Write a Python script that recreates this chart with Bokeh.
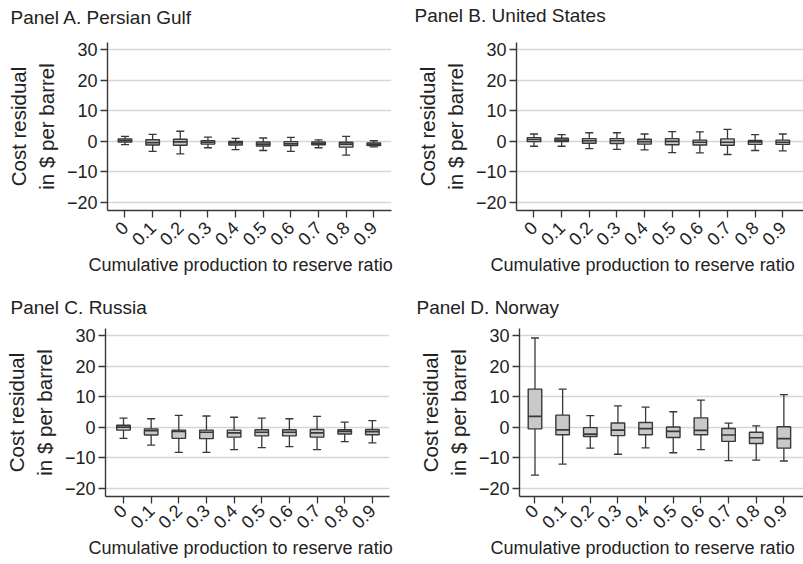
import math
import numpy as np
from bokeh.plotting import figure
from bokeh.layouts import column, row
from bokeh.models import FixedTicker, Title, Label, Range1d
from bokeh.embed import file_html
from bokeh.resources import INLINE

# ---------------- data ----------------
ratios = ["0", "0.1", "0.2", "0.3", "0.4", "0.5", "0.6", "0.7", "0.8", "0.9"]
y_ticks = [-20, -10, 0, 10, 20, 30]
y_tick_labels = ["\u221220", "\u221210", "0", "10", "20", "30"]

gulf_low = [-1.1, -3.3, -4.1, -2.1, -2.7, -3.0, -3.3, -2.1, -4.5, -1.8]
gulf_q1 = [-0.2, -1.2, -1.3, -0.9, -1.2, -1.5, -1.4, -1.1, -1.9, -1.4]
gulf_med = [0.3, -0.4, -0.2, -0.3, -0.5, -0.9, -0.8, -0.7, -0.9, -0.9]
gulf_q3 = [0.8, 0.5, 0.7, 0.2, 0.0, -0.2, -0.1, -0.2, -0.3, -0.5]
gulf_high = [1.6, 2.3, 3.3, 1.4, 1.0, 1.1, 1.3, 0.5, 1.6, 0.2]

us_low = [-1.6, -1.6, -2.4, -2.6, -2.8, -3.7, -3.8, -4.3, -3.0, -3.1]
us_q1 = [-0.1, -0.1, -0.6, -0.7, -0.9, -1.1, -1.2, -1.3, -1.0, -1.0]
us_med = [0.6, 0.4, 0.2, 0.2, -0.1, 0.0, -0.3, -0.3, -0.2, -0.3]
us_q3 = [1.2, 1.0, 0.9, 0.9, 0.7, 0.9, 0.4, 0.8, 0.3, 0.4]
us_high = [2.4, 2.2, 2.8, 2.8, 2.4, 3.2, 3.1, 3.9, 2.2, 2.4]

russia_low = [-3.6, -5.8, -8.2, -8.2, -7.3, -6.6, -6.3, -7.3, -4.7, -5.1]
russia_q1 = [-0.9, -2.5, -3.6, -3.7, -3.2, -2.8, -2.8, -3.2, -2.2, -2.4]
russia_med = [0.1, -1.1, -1.3, -1.6, -1.8, -1.6, -1.6, -1.8, -1.3, -1.4]
russia_q3 = [0.7, -0.5, -0.9, -0.9, -0.9, -0.8, -0.8, -0.7, -0.8, -0.7]
russia_high = [3.0, 2.8, 3.9, 3.7, 3.3, 3.0, 2.8, 3.6, 1.7, 2.2]

norway_low = [-15.6, -12.0, -6.8, -8.8, -6.7, -8.3, -7.3, -10.9, -10.7, -11.0]
norway_q1 = [-0.5, -2.4, -3.0, -2.7, -2.4, -3.3, -2.4, -4.6, -5.3, -6.8]
norway_med = [3.6, -0.8, -2.2, -0.9, -0.4, -1.3, -1.0, -2.5, -3.4, -3.7]
norway_q3 = [12.5, 4.0, -0.1, 1.4, 1.6, 0.1, 3.1, -0.4, -1.6, 0.2]
norway_high = [29.2, 12.5, 3.8, 7.0, 6.6, 5.1, 8.9, 1.4, 0.5, 10.7]

panel_titles = ["Panel A. Persian Gulf", "Panel B. United States",
                "Panel C. Russia", "Panel D. Norway"]
x_title = "Cumulative production to reserve ratio"
y_title = "Cost residual\nin $ per barrel"

# ---------------- style ----------------
FONT = "Liberation Sans"
TXT = "#222222"
DARK = "#383838"
BOX_FILL = "#c9c9c9"
GRID = "#d6d6d6"
BOX_W = 0.49
CAP_W = 0.29
Y_START, Y_END = -22.6, 32.3


def make_title(text, width, height, tx, ty):
    """A thin frameless figure that only carries the panel heading."""
    t = figure(width=width, height=height, x_range=Range1d(0, width), y_range=Range1d(height, 0),
               output_backend="svg", toolbar_location=None,
               min_border_left=0, min_border_right=0, min_border_top=0, min_border_bottom=0)
    t.axis.visible = False
    t.grid.visible = False
    t.outline_line_color = None
    t.add_layout(Label(x=tx, y=ty, text=text, text_align="left", text_baseline="middle",
                       text_font=FONT, text_font_size="19px", text_color=TXT))
    return t


def make_panel(lo, q1, med, q3, hi, x_start, x_end, width, height,
               mb_left, mb_right, mb_top, mb_bottom,
               xlab_offset, xtick_standoff, xlab_standoff):
    p = figure(width=width, height=height, x_range=(x_start, x_end), y_range=(Y_START, Y_END),
               output_backend="svg", toolbar_location=None,
               min_border_left=mb_left, min_border_right=mb_right,
               min_border_top=mb_top, min_border_bottom=mb_bottom)
    p.outline_line_color = None
    p.background_fill_color = "white"
    p.border_fill_color = "white"

    x = np.arange(len(ratios), dtype=float)
    lo = np.array(lo); q1 = np.array(q1); med = np.array(med)
    q3 = np.array(q3); hi = np.array(hi)

    # whiskers
    p.segment(x0=x, y0=q3, x1=x, y1=hi, line_color=DARK, line_width=1.3)
    p.segment(x0=x, y0=q1, x1=x, y1=lo, line_color=DARK, line_width=1.3)
    p.segment(x0=x - CAP_W / 2, y0=hi, x1=x + CAP_W / 2, y1=hi, line_color=DARK, line_width=1.3)
    p.segment(x0=x - CAP_W / 2, y0=lo, x1=x + CAP_W / 2, y1=lo, line_color=DARK, line_width=1.3)
    # boxes
    p.vbar(x=x, width=BOX_W, bottom=q1, top=q3, fill_color=BOX_FILL,
           line_color=DARK, line_width=1.4)
    # medians
    p.segment(x0=x - BOX_W / 2, y0=med, x1=x + BOX_W / 2, y1=med, line_color=DARK, line_width=1.7)

    # axes
    p.xaxis.ticker = FixedTicker(ticks=list(range(len(ratios))))
    p.xaxis.major_label_overrides = {i: r for i, r in enumerate(ratios)}
    p.xaxis.major_label_orientation = math.pi / 4
    p.yaxis.ticker = FixedTicker(ticks=y_ticks)
    p.yaxis.major_label_overrides = {t: l for t, l in zip(y_ticks, y_tick_labels)}
    p.yaxis.axis_label = y_title

    for ax in (p.xaxis[0], p.yaxis[0]):
        ax.axis_line_color = DARK
        ax.axis_line_width = 1.4
        ax.major_tick_line_color = DARK
        ax.major_tick_line_width = 1.3
        ax.major_tick_out = 7
        ax.major_tick_in = 0
        ax.minor_tick_line_color = None
        ax.major_label_text_font = FONT
        ax.major_label_text_font_size = "18px"
        ax.major_label_text_color = TXT
        ax.major_label_standoff = 3
        ax.axis_label_text_font = FONT
        ax.axis_label_text_font_style = "normal"
        ax.axis_label_text_color = TXT
    p.xaxis.major_label_standoff = xtick_standoff
    p.yaxis.axis_label_text_font_size = "20.5px"
    p.yaxis.axis_label_standoff = 6

    xt = Title(text=x_title, align="left", offset=xlab_offset, standoff=xlab_standoff,
               text_font=FONT, text_font_size="18px", text_font_style="normal",
               text_color=TXT)
    p.add_layout(xt, "below")

    p.xgrid.visible = False
    p.ygrid.ticker = FixedTicker(ticks=y_ticks)
    p.ygrid.grid_line_color = GRID
    p.ygrid.grid_line_width = 1.3
    return p


tA = make_title(panel_titles[0], 400, 30, 10, 17)
tB = make_title(panel_titles[1], 403, 30, 14, 15)
tC = make_title(panel_titles[2], 400, 30, 10, 17)
tD = make_title(panel_titles[3], 403, 30, 16, 17)

pA = make_panel(gulf_low, gulf_q1, gulf_med, gulf_q3, gulf_high,
                -0.633, 9.64, 400, 260, 107, 9, 12, 80, -19, 7, -3)
pB = make_panel(us_low, us_q1, us_med, us_q3, us_high,
                -0.633, 9.75, 403, 260, 116, 0, 12, 80, -26, 7, -3)
pC = make_panel(russia_low, russia_q1, russia_med, russia_q3, russia_high,
                -0.651, 9.62, 400, 244, 105, 11, 8, 68, -17, 4, -3)
pD = make_panel(norway_low, norway_q1, norway_med, norway_q3, norway_high,
                -0.56, 9.71, 403, 244, 119, 0, 8, 68, -29, 4, -3)

layout = column(row(tA, tB), row(pA, pB), row(tC, tD), row(pC, pD))

open("out.html", "w").write(file_html(layout, INLINE))
